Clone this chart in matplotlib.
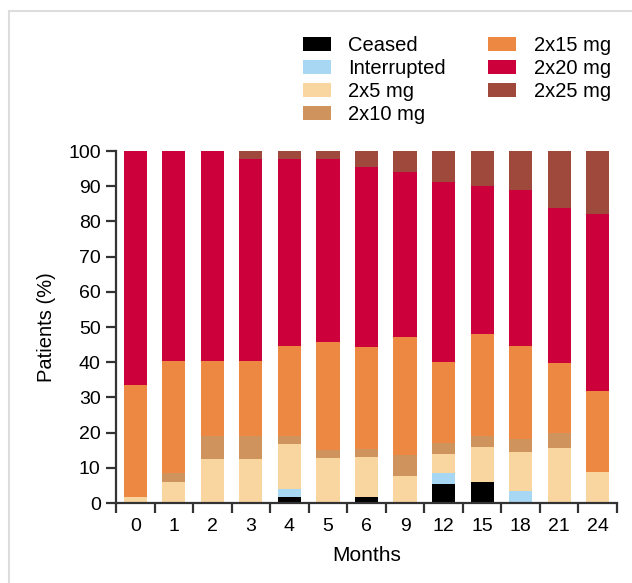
import matplotlib
matplotlib.use("Agg")
import matplotlib.pyplot as plt
import numpy as np
from matplotlib.patches import Rectangle

plt.rcParams['font.family'] = ['Liberation Sans', 'DejaVu Sans']

months = ['0', '1', '2', '3', '4', '5', '6', '9', '12', '15', '18', '21', '24']

ceased      = [0, 0, 0, 0, 1.6, 0, 1.6, 0, 5.3, 5.9, 0, 0, 0]
interrupted = [0, 0, 0, 0, 2.3, 0, 0, 0, 3.2, 0, 3.3, 0, 0]
mg5  = [1.6, 5.9, 12.5, 12.5, 12.8, 12.7, 11.4, 7.8, 5.3, 10.0, 11.1, 15.5, 8.8]
mg10 = [0, 2.7, 6.4, 6.4, 2.2, 2.3, 2.2, 5.8, 3.2, 3.0, 3.7, 4.3, 0]
mg15 = [31.9, 31.7, 21.4, 21.4, 25.6, 30.7, 29.1, 33.5, 23.0, 29.1, 26.4, 19.9, 22.9]
mg20 = [66.5, 59.7, 59.7, 57.4, 53.2, 52.0, 51.2, 46.9, 51.2, 42.1, 44.4, 44.1, 50.3]
mg25 = [0, 0, 0, 2.3, 2.3, 2.3, 4.5, 6.0, 8.8, 9.9, 11.1, 16.2, 18.0]

series = [
    ('Ceased', ceased, '#000000'),
    ('Interrupted', interrupted, '#A7D7F3'),
    ('2x5 mg', mg5, '#F9D5A0'),
    ('2x10 mg', mg10, '#CF935E'),
    ('2x15 mg', mg15, '#EC8841'),
    ('2x20 mg', mg20, '#CC003B'),
    ('2x25 mg', mg25, '#9E493B'),
]

fig = plt.figure(figsize=(6.32, 5.83), dpi=100)
# light grey outer frame (only left/top visible)
fig.patches.append(Rectangle((9 / 632, -0.1), 1.2, 1 - 11 / 583 + 0.1,
                             transform=fig.transFigure, fill=False,
                             edgecolor='#DDDDDD', linewidth=1.5))
ax = fig.add_axes([116 / 632, 1 - 503 / 583, 501 / 632, 352 / 583])

x = np.arange(len(months))
bottom = np.zeros(len(months))
handles = []
for name, vals, color in series:
    vals = np.array(vals)
    b = ax.bar(x, vals, width=0.6, bottom=bottom, color=color, label=name, linewidth=0)
    handles.append(b)
    bottom += vals

ax.set_xlim(-0.5, len(months) - 0.5)
ax.set_ylim(0, 100)
ax.set_yticks(np.arange(0, 101, 10))
ax.set_xticks(x)
ax.set_xticklabels(months)
ax.set_xticks(np.arange(-0.5, len(months), 1), minor=True)

for s in ['top', 'right']:
    ax.spines[s].set_visible(False)
for s in ['left', 'bottom']:
    ax.spines[s].set_linewidth(1.6)
    ax.spines[s].set_color('#333333')

ax.tick_params(axis='x', which='major', length=0, pad=11, labelsize=14)
ax.tick_params(axis='x', which='minor', length=7, width=1.6, color='#333333', direction='out')
ax.tick_params(axis='y', length=7, width=1.6, color='#333333', pad=4, labelsize=14)

ax.set_xlabel('Months', fontsize=15, labelpad=8)
ax.set_ylabel('Patients (%)', fontsize=14.5, labelpad=9)

leg = ax.legend(handles=handles, ncol=2, loc='upper left',
                bbox_to_anchor=(303 / 632, 1 - 36 / 583), bbox_transform=fig.transFigure,
                frameon=False, fontsize=14.5, handlelength=1.4, handleheight=0.75,
                handletextpad=0.85, columnspacing=2.1, labelspacing=0.2, borderpad=0,
                borderaxespad=0)

fig.savefig('out.png', dpi=100)
